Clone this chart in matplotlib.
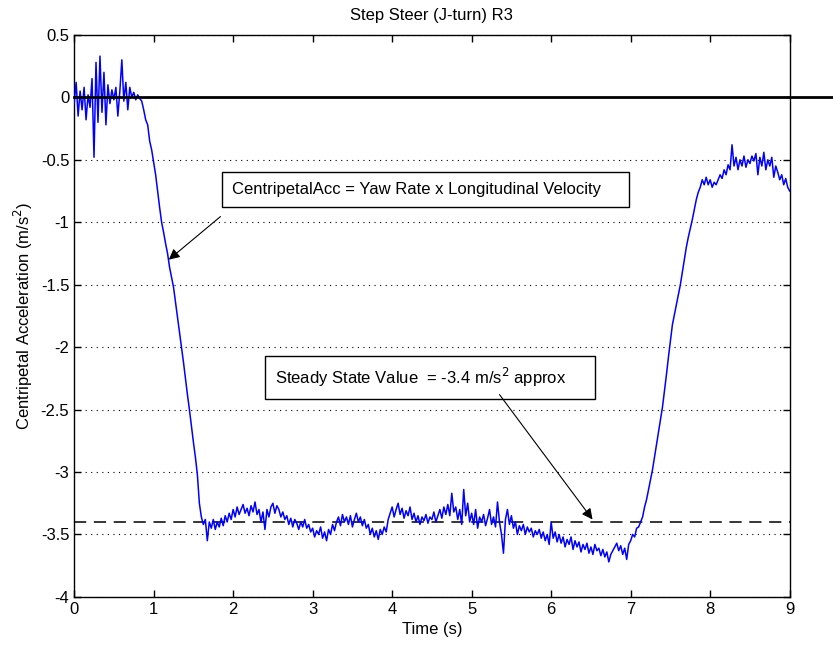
import numpy as np
import matplotlib
matplotlib.use("Agg")
import matplotlib.pyplot as plt

# sampled centripetal acceleration (m/s^2), one value every 0.025 s from 0 to 9 s
dt = 0.025
accel = [
    # 0.0 - 1.0 s
    -0.05, 0.12, -0.15, 0.05, -0.10, 0.08, -0.18, 0.02, -0.08, 0.15,
    -0.48, 0.28, -0.20, 0.33, -0.12, 0.20, -0.22, 0.10, -0.05, 0.06,
    -0.02, 0.08, -0.15, 0.05, 0.30, -0.03, 0.12, -0.10, 0.08, 0.00,
    0.04, -0.02, 0.02, -0.01, -0.03, -0.10, -0.18, -0.22, -0.35, -0.42,
    # 1.0 - 2.0 s
    -0.52, -0.62, -0.75, -0.88, -1.00, -1.08, -1.17, -1.25, -1.36, -1.44,
    -1.52, -1.64, -1.76, -1.88, -2.00, -2.12, -2.25, -2.38, -2.50, -2.63,
    -2.76, -2.88, -3.02, -3.25, -3.36, -3.42, -3.38, -3.55, -3.40, -3.45,
    -3.38, -3.46, -3.40, -3.44, -3.37, -3.43, -3.35, -3.40, -3.33, -3.38,
    # 2.0 - 3.0 s
    -3.30, -3.36, -3.28, -3.34, -3.30, -3.26, -3.33, -3.29, -3.35, -3.27,
    -3.32, -3.24, -3.34, -3.30, -3.40, -3.32, -3.46, -3.30, -3.36, -3.28,
    -3.25, -3.33, -3.27, -3.30, -3.36, -3.32, -3.38, -3.35, -3.42, -3.37,
    -3.44, -3.38, -3.41, -3.46, -3.40, -3.44, -3.38, -3.45, -3.42, -3.48,
    # 3.0 - 4.0 s
    -3.45, -3.52, -3.47, -3.50, -3.44, -3.53, -3.48, -3.55, -3.46, -3.50,
    -3.42, -3.47, -3.40, -3.36, -3.43, -3.34, -3.40, -3.36, -3.42, -3.35,
    -3.44, -3.38, -3.33, -3.40, -3.36, -3.43, -3.38, -3.45, -3.42, -3.50,
    -3.45, -3.52, -3.47, -3.54, -3.46, -3.50, -3.44, -3.48, -3.38, -3.33,
    # 4.0 - 5.0 s
    -3.28, -3.36, -3.30, -3.25, -3.34, -3.29, -3.37, -3.31, -3.35, -3.28,
    -3.38, -3.33, -3.40, -3.35, -3.42, -3.36, -3.39, -3.34, -3.41, -3.36,
    -3.38, -3.32, -3.40, -3.35, -3.30, -3.37, -3.28, -3.34, -3.26, -3.35,
    -3.17, -3.32, -3.28, -3.38, -3.30, -3.42, -3.14, -3.35, -3.25, -3.40,
    # 5.0 - 6.0 s
    -3.33, -3.42, -3.30, -3.45, -3.36, -3.40, -3.34, -3.43, -3.37, -3.30,
    -3.42, -3.36, -3.44, -3.24, -3.40, -3.50, -3.65, -3.38, -3.30, -3.42,
    -3.35, -3.45, -3.40, -3.50, -3.43, -3.47, -3.42, -3.50, -3.44, -3.48,
    -3.45, -3.52, -3.47, -3.50, -3.46, -3.53, -3.48, -3.55, -3.50, -3.58,
    # 6.0 - 7.0 s
    -3.40, -3.53, -3.48, -3.56, -3.50, -3.57, -3.52, -3.60, -3.54, -3.58,
    -3.52, -3.62, -3.55, -3.60, -3.56, -3.64, -3.58, -3.62, -3.57, -3.65,
    -3.60, -3.66, -3.58, -3.63, -3.61, -3.67, -3.62, -3.68, -3.64, -3.72,
    -3.66, -3.63, -3.60, -3.57, -3.63, -3.59, -3.66, -3.61, -3.70, -3.58,
    # 7.0 - 8.0 s
    -3.55, -3.50, -3.52, -3.45, -3.44, -3.40, -3.36, -3.28, -3.22, -3.14,
    -3.06, -2.98, -2.88, -2.78, -2.68, -2.58, -2.48, -2.35, -2.22, -2.08,
    -1.95, -1.82, -1.74, -1.66, -1.58, -1.50, -1.40, -1.30, -1.20, -1.12,
    -1.05, -0.98, -0.90, -0.82, -0.76, -0.72, -0.66, -0.70, -0.64, -0.70,
    # 8.0 - 9.0 s
    -0.66, -0.72, -0.68, -0.70, -0.66, -0.62, -0.65, -0.58, -0.62, -0.54,
    -0.58, -0.38, -0.55, -0.48, -0.58, -0.50, -0.55, -0.47, -0.56, -0.50,
    -0.53, -0.47, -0.51, -0.45, -0.62, -0.48, -0.55, -0.44, -0.58, -0.50,
    -0.55, -0.48, -0.64, -0.55, -0.60, -0.66, -0.62, -0.70, -0.65, -0.72,
    -0.75,
]
time = np.arange(len(accel)) * dt

steady_value = -3.4
x_ticks = list(range(0, 10))
y_ticks = [-4, -3.5, -3, -2.5, -2, -1.5, -1, -0.5, 0, 0.5]
y_tick_labels = ['-4', '-3.5', '-3', '-2.5', '-2', '-1.5', '-1', '-0.5', '0', '0.5']

font = ['Liberation Sans', 'DejaVu Sans']

fig = plt.figure(figsize=(8.33, 6.46), dpi=100)
ax = fig.add_axes([0.089, 0.076, 0.859, 0.870])

ax.plot(time, accel, color='blue', lw=1.1, zorder=3)
# zero line runs past the right edge of the axes
ax.plot([0, 9.6], [0, 0], color='black', lw=2.0, clip_on=False, zorder=4)
ax.axhline(steady_value, color='black', lw=1.1, linestyle=(0, (8, 5)), zorder=2)

ax.set_xlim(0, 9)
ax.set_ylim(-4, 0.5)
ax.set_xticks(x_ticks)
ax.set_xticklabels([str(v) for v in x_ticks], family=font, fontsize=12)
ax.set_yticks(y_ticks)
ax.set_yticklabels(y_tick_labels, family=font, fontsize=12)
ax.tick_params(direction='in', length=5, top=True, right=True, width=1)
ax.yaxis.grid(True, color='black', linestyle=(0, (1, 4)), lw=0.8)
for s in ax.spines.values():
    s.set_linewidth(1.0)

ax.set_title('Step Steer (J-turn) R3', family=font, fontsize=12, pad=11)
ax.set_xlabel('Time (s)', family=font, fontsize=12)
ax.set_ylabel('Centripetal Acceleration (m/s$^2$)', family=font, fontsize=12)

box = dict(boxstyle='square,pad=0.6', fc='white', ec='black', lw=1.0)
ax.text(1.985, -0.74, 'CentripetalAcc = Yaw Rate x Longitudinal Velocity    ',
        family=font, fontsize=12, va='center', ha='left', bbox=box, zorder=5)
ax.annotate('', xy=(1.19, -1.30), xytext=(1.84, -0.955),
            arrowprops=dict(arrowstyle='-|>', color='black', lw=0.8,
                            mutation_scale=16, shrinkA=0, shrinkB=0), zorder=5)

ax.text(2.525, -2.24, 'Steady State Value  = -3.4 m/s$^2$ approx     ',
        family=font, fontsize=12, va='center', ha='left', bbox=box, zorder=5)
ax.annotate('', xy=(6.52, -3.38), xytext=(5.35, -2.38),
            arrowprops=dict(arrowstyle='-|>', color='black', lw=0.8,
                            mutation_scale=16, shrinkA=0, shrinkB=0), zorder=5)

fig.savefig('out.png', dpi=100)
